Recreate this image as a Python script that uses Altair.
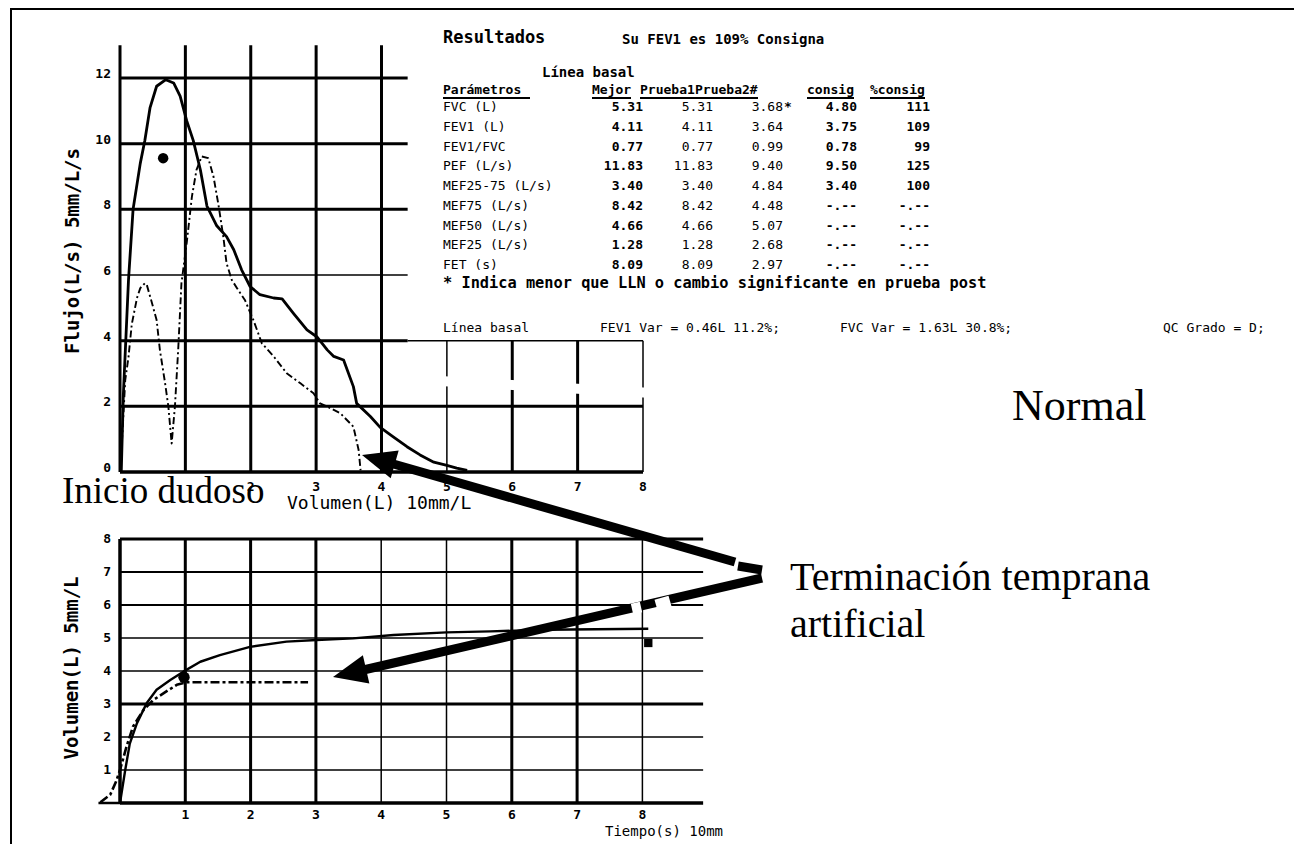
import math
import altair as alt
import pandas as pd

# ---------------- data ----------------
# Flow-volume (top): best test (solid) and trial 2 (dash-dot)
fv_best_volume = [0.0, 0.02, 0.05, 0.13, 0.20, 0.31, 0.38, 0.46, 0.56, 0.70, 0.82, 0.92, 1.02, 1.12,
                  1.23, 1.33, 1.48, 1.63, 1.74, 1.86, 1.99, 2.14, 2.35, 2.48, 2.65, 2.86, 3.01, 3.17,
                  3.27, 3.42, 3.57, 3.62, 3.83, 3.98, 4.18, 4.39, 4.59, 4.80, 5.00, 5.15, 5.31]
fv_best_flow = [0.0, 0.05, 2.3, 5.85, 8.0, 9.4, 10.1, 11.1, 11.75, 11.95, 11.85, 11.45, 10.7, 10.1,
                9.2, 8.1, 7.5, 7.17, 6.77, 6.16, 5.65, 5.4, 5.3, 5.27, 4.84, 4.33, 4.12, 3.72,
                3.52, 3.41, 2.6, 2.09, 1.69, 1.36, 1.07, 0.77, 0.52, 0.30, 0.20, 0.12, 0.05]
fv_trial2_volume = [0.0, 0.04, 0.08, 0.13, 0.18, 0.26, 0.31, 0.38, 0.41, 0.49, 0.56, 0.61, 0.69, 0.74,
                    0.79, 0.84, 0.89, 0.94, 1.02, 1.10, 1.17, 1.25, 1.35, 1.43, 1.51, 1.58, 1.63, 1.71,
                    1.79, 1.91, 2.04, 2.17, 2.35, 2.55, 2.76, 2.96, 3.06, 3.17, 3.37, 3.57, 3.65, 3.68]
fv_trial2_flow = [0.0, 1.28, 2.8, 3.5, 4.5, 5.3, 5.6, 5.75, 5.7, 5.14, 4.63, 3.72, 2.7, 1.99,
                  0.87, 1.99, 3.72, 5.75, 6.97, 8.39, 9.2, 9.61, 9.56, 9.0, 8.09, 7.17, 6.36, 5.85,
                  5.6, 5.24, 4.63, 3.92, 3.52, 3.01, 2.7, 2.4, 2.09, 1.99, 1.79, 1.38, 0.67, 0.05]
fv_marker_volume = [0.66]
fv_marker_flow = [9.56]

# Volume-time (bottom)
vt_best_time = [-0.33, 0.0, 0.08, 0.15, 0.26, 0.41, 0.56, 0.77, 0.97, 1.23, 1.53, 1.99, 2.55, 3.01,
                3.57, 4.19, 5.0, 5.67, 6.5, 8.09]
vt_best_volume = [0.0, 0.0, 1.0, 1.8, 2.42, 3.03, 3.43, 3.73, 3.98, 4.28, 4.48, 4.73, 4.89, 4.94,
                  4.99, 5.09, 5.17, 5.2, 5.25, 5.28]
vt_trial2_time = [-0.3, -0.15, -0.06, 0.0, 0.10, 0.20, 0.36, 0.51, 0.71, 0.87, 1.02, 2.88]
vt_trial2_volume = [0.02, 0.25, 0.65, 1.0, 1.71, 2.32, 2.82, 3.12, 3.38, 3.58, 3.66, 3.66]
vt_marker_time = [0.98]
vt_marker_volume = [3.81]
vt_end_time = [8.09]
vt_end_volume = [4.85]

# axis ticks
fv_x_ticks = [2, 3, 4, 5, 6, 7, 8]
fv_y_ticks = [0, 2, 4, 6, 8, 10, 12]
vt_x_ticks = [1, 2, 3, 4, 5, 6, 7, 8]
vt_y_ticks = [1, 2, 3, 4, 5, 6, 7, 8]

# grid lines
fv_v_full = [0, 1, 2, 3, 4]
fv_v_low_thick = [6, 7]
fv_v_low_thin = [5, 8]
fv_h_upper_thick = [4, 8, 10, 12]
fv_h_upper_thin = [6]
fv_h_full_thick = [2]
vt_v_thick = [1, 2, 3, 6, 7]
vt_v_thin = [4, 5, 8]
vt_h_thick = [3, 8]
vt_h_mid = [6, 7]
vt_h_thin = [1, 2, 4, 5]

# results table
params = ["FVC (L)", "FEV1 (L)", "FEV1/FVC", "PEF (L/s)", "MEF25-75 (L/s)",
          "MEF75 (L/s)", "MEF50 (L/s)", "MEF25 (L/s)", "FET (s)"]
col_mejor = ["5.31", "4.11", "0.77", "11.83", "3.40", "8.42", "4.66", "1.28", "8.09"]
col_prueba1 = ["5.31", "4.11", "0.77", "11.83", "3.40", "8.42", "4.66", "1.28", "8.09"]
col_prueba2 = ["3.68*", "3.64", "0.99", "9.40", "4.84", "4.48", "5.07", "2.68", "2.97"]
col_consig = ["4.80", "3.75", "0.78", "9.50", "3.40", "-.--", "-.--", "-.--", "-.--"]
col_pct = ["111", "109", "99", "125", "100", "-.--", "-.--", "-.--", "-.--"]
headers = ["Parámetros", "Mejor", "Prueba1", "Prueba2#", "consig", "%consig"]

txt_results = "Resultados"
txt_summary = "Su FEV1 es 109% Consigna"
txt_baseline_hdr = "Línea basal"
txt_footnote = "* Indica menor que LLN o cambio significante en prueba post"
txt_var_row = ["Línea basal", "FEV1 Var = 0.46L 11.2%;", "FVC Var = 1.63L 30.8%;", "QC Grado = D;"]
txt_fv_xtitle = "Volumen(L) 10mm/L"
txt_fv_ytitle = "Flujo(L/s) 5mm/L/s"
txt_vt_xtitle = "Tiempo(s) 10mm"
txt_vt_ytitle = "Volumen(L) 5mm/L"
txt_notes = ["Inicio dudoso", "Normal", "Terminación temprana", "artificial"]

# ---------------- layout (page pixels) ----------------
M = 8
W, H = 1286, 836


def P(v):
    return v - M


MONO = "DejaVu Sans Mono"
SERIF = "Liberation Serif"

TOPX = alt.Scale(domain=[0, 8], range=[P(120), P(643)], nice=False, zero=False)
TOPY = alt.Scale(domain=[0, 13], range=[P(472), P(45.2)], nice=False, zero=False)
BOTX = alt.Scale(domain=[0, 9], range=[P(120), P(707.7)], nice=False, zero=False)
BOTY = alt.Scale(domain=[0, 8], range=[P(803), P(539)], nice=False, zero=False)
ROWY = alt.Scale(domain=[0, 8], range=[P(107), P(265)], nice=False, zero=False)

layers = []


def vlines(xs, lo, hi, sx, sy, w):
    df = pd.DataFrame({"x": xs, "lo": [lo] * len(xs), "hi": [hi] * len(xs)})
    return alt.Chart(df).mark_rule(color="black", strokeWidth=w).encode(
        x=alt.X("x:Q", scale=sx, axis=None),
        y=alt.Y("lo:Q", scale=sy, axis=None), y2="hi:Q")


def hlines(ys, lo, hi, sx, sy, w):
    df = pd.DataFrame({"y": ys, "lo": [lo] * len(ys), "hi": [hi] * len(ys)})
    return alt.Chart(df).mark_rule(color="black", strokeWidth=w).encode(
        y=alt.Y("y:Q", scale=sy, axis=None),
        x=alt.X("lo:Q", scale=sx, axis=None), x2="hi:Q")


def curve(xs, ys, sx, sy, w, dash=None):
    df = pd.DataFrame({"x": xs, "y": ys, "i": list(range(len(xs)))})
    kw = dict(color="black", strokeWidth=w, strokeJoin="round", strokeCap="butt")
    if dash:
        kw["strokeDash"] = dash
    return alt.Chart(df).mark_line(**kw).encode(
        x=alt.X("x:Q", scale=sx, axis=None),
        y=alt.Y("y:Q", scale=sy, axis=None),
        order="i:Q")


def dots(xs, ys, sx, sy, size, shape="circle"):
    df = pd.DataFrame({"x": xs, "y": ys})
    return alt.Chart(df).mark_point(filled=True, color="black", size=size, shape=shape, opacity=1).encode(
        x=alt.X("x:Q", scale=sx, axis=None), y=alt.Y("y:Q", scale=sy, axis=None))


def labels(items, font, size, weight="normal", align="left", angle=0, baseline="middle"):
    df = pd.DataFrame({"label": [t for t, _, _ in items],
                       "px": [P(x) for _, x, _ in items],
                       "py": [P(y) for _, _, y in items]})
    return alt.Chart(df).mark_text(font=font, fontSize=size, fontWeight=weight, align=align,
                                   baseline=baseline, angle=angle, color="black").encode(
        x=alt.X("px:Q", scale=None), y=alt.Y("py:Q", scale=None), text="label:N")


def tick_text(vals, sx, sy, fixed, axis_is_x, size=13, align="center", dy=0):
    df = pd.DataFrame({"v": vals, "lab": [str(v) for v in vals]})
    mk = alt.Chart(df).mark_text(font=MONO, fontSize=size, fontWeight="bold", align=align,
                                 baseline="middle", color="black", dy=dy)
    if axis_is_x:
        return mk.encode(x=alt.X("v:Q", scale=sx, axis=None), y=alt.value(P(fixed)), text="lab:N")
    return mk.encode(y=alt.Y("v:Q", scale=sy, axis=None), x=alt.value(P(fixed)), text="lab:N")


def seg_layer(segs, w, color="black"):
    df = pd.DataFrame({"x1": [P(a[0]) for a, b in segs], "y1": [P(a[1]) for a, b in segs],
                       "x2": [P(b[0]) for a, b in segs], "y2": [P(b[1]) for a, b in segs]})
    return alt.Chart(df).mark_rule(color=color, strokeWidth=w, strokeCap="butt").encode(
        x=alt.X("x1:Q", scale=None), y=alt.Y("y1:Q", scale=None), x2="x2:Q", y2="y2:Q")


# ---- page frame (left and top) ----
layers.append(seg_layer([((11, 8), (11, 856)), ((11, 9), (1302, 9))], 2))

# ---- flow-volume grid ----
layers.append(vlines(fv_v_full, 0, 13, TOPX, TOPY, 3))
layers.append(vlines(fv_v_low_thick, 0, 4, TOPX, TOPY, 3))
layers.append(vlines(fv_v_low_thin, 0, 4, TOPX, TOPY, 1.5))
layers.append(hlines(fv_h_upper_thick, 0, 4.4, TOPX, TOPY, 3))
layers.append(hlines(fv_h_upper_thin, 0, 4.4, TOPX, TOPY, 1.5))
layers.append(hlines([4], 4.4, 8, TOPX, TOPY, 1.5))
layers.append(hlines(fv_h_full_thick, 0, 8, TOPX, TOPY, 3))
layers.append(hlines([0], 0, 8, TOPX, TOPY, 3.5))
# erased band across the right-hand verticals
layers.append(seg_layer([((440, 381), (652, 393))], 10, color="white"))

# ---- flow-volume curves ----
layers.append(curve(fv_best_volume, fv_best_flow, TOPX, TOPY, 2.8))
layers.append(curve(fv_trial2_volume, fv_trial2_flow, TOPX, TOPY, 1.9, dash=[7, 3, 2, 3]))
layers.append(dots(fv_marker_volume, fv_marker_flow, TOPX, TOPY, 110))

# ---- volume-time grid ----
layers.append(vlines([0], 0, 8, BOTX, BOTY, 3.5))
layers.append(vlines(vt_v_thick, 0, 8, BOTX, BOTY, 3))
layers.append(vlines(vt_v_thin, 0, 8, BOTX, BOTY, 1.5))
layers.append(hlines(vt_h_thick, 0, 8.93, BOTX, BOTY, 3))
layers.append(hlines(vt_h_mid, 0, 8.93, BOTX, BOTY, 2.2))
layers.append(hlines(vt_h_thin, 0, 8.93, BOTX, BOTY, 1.5))
layers.append(hlines([0], 0, 8.93, BOTX, BOTY, 3.5))

# ---- volume-time curves ----
layers.append(curve(vt_best_time, vt_best_volume, BOTX, BOTY, 2.4))
layers.append(curve(vt_trial2_time, vt_trial2_volume, BOTX, BOTY, 2.6, dash=[9, 3, 3, 3]))
layers.append(dots(vt_marker_time, vt_marker_volume, BOTX, BOTY, 130))
layers.append(dots(vt_end_time, vt_end_volume, BOTX, BOTY, 70, shape="square"))

# ---- tick labels and axis titles ----
layers.append(tick_text(fv_x_ticks, TOPX, TOPY, 487, True))
layers.append(tick_text(fv_y_ticks, TOPX, TOPY, 111, False, align="right", dy=-4))
layers.append(tick_text(vt_x_ticks, BOTX, BOTY, 815, True))
layers.append(tick_text(vt_y_ticks, BOTX, BOTY, 111, False, align="right"))
layers.append(labels([(txt_fv_xtitle, 287, 504)], MONO, 18))
layers.append(labels([(txt_vt_xtitle, 605, 832)], MONO, 14))
layers.append(labels([(txt_fv_ytitle, 73, 251), (txt_vt_ytitle, 72, 668)], MONO, 19,
                     weight="bold", align="center", angle=270))

# ---- results table ----
layers.append(labels([(txt_results, 443, 38)], MONO, 17, weight="bold"))
layers.append(labels([(txt_summary, 622, 40), (txt_baseline_hdr, 542, 73)], MONO, 14, weight="bold"))
hdr_x = [443, 592, 640, 695, 807, 870]
hdr_w = [87, 39, 55, 63, 47, 55]
layers.append(labels([(headers[i], hdr_x[i], 90) for i in range(len(headers))], MONO, 13, weight="bold"))
layers.append(seg_layer([((hdr_x[i], 98), (hdr_x[i] + hdr_w[i], 98)) for i in range(len(headers))], 2))


def table_col(values, xpos, align, weight):
    df = pd.DataFrame({"row": list(range(len(values))), "val": values})
    return alt.Chart(df).mark_text(font=MONO, fontSize=13, fontWeight=weight, align=align,
                                   baseline="middle", color="black").encode(
        y=alt.Y("row:Q", scale=ROWY, axis=None), x=alt.value(P(xpos)), text="val:N")


prueba2_clean = [v.rstrip("*") for v in col_prueba2]
prueba2_flag = ["*" if v.endswith("*") else "" for v in col_prueba2]
layers.append(table_col(params, 443, "left", "normal"))
layers.append(table_col(col_mejor, 643, "right", "bold"))
layers.append(table_col(col_prueba1, 713, "right", "normal"))
layers.append(table_col(prueba2_clean, 783, "right", "normal"))
layers.append(table_col(prueba2_flag, 784, "left", "bold"))
layers.append(table_col(col_consig, 857, "right", "bold"))
layers.append(table_col(col_pct, 930, "right", "bold"))
layers.append(labels([(txt_footnote, 443, 283)], MONO, 15.3, weight="bold"))
var_x = [443, 600, 840, 1163]
layers.append(labels([(txt_var_row[i], var_x[i], 328) for i in range(4)], MONO, 13))

# ---- arrows ----
arrow_defs = [((362, 455), (735, 562)), ((333, 677), (762, 578))]
HEAD = 34
shafts = []
heads = []
for tip, tail in arrow_defs:
    dx, dy = tail[0] - tip[0], tail[1] - tip[1]
    L = math.hypot(dx, dy)
    ux, uy = dx / L, dy / L
    base = (tip[0] + ux * (HEAD - 4), tip[1] + uy * (HEAD - 4))
    shafts.append((base, tail))
    ang = math.degrees(math.atan2(-uy, -ux)) - 180
    heads.append((P(tip[0] + ux * HEAD / 2), P(tip[1] + uy * HEAD / 2), ang % 360))
layers.append(seg_layer(shafts, 9))
layers.append(seg_layer([((738, 566), (762, 570))], 9))
layers.append(seg_layer([((670, 601), (656, 605)), ((641, 607), (632, 609))], 11, color="white"))
head_df = pd.DataFrame({"hx": [h[0] for h in heads], "hy": [h[1] for h in heads], "ang": [h[2] for h in heads]})
layers.append(alt.Chart(head_df).mark_point(filled=True, color="black", opacity=1, size=HEAD * HEAD,
                                            shape="M -1 0 L 1 -0.85 L 1 0.85 Z").encode(
    x=alt.X("hx:Q", scale=None), y=alt.Y("hy:Q", scale=None), angle=alt.Angle("ang:Q", scale=None)))

# ---- big annotations ----
layers.append(labels([(txt_notes[0], 62, 503)], SERIF, 37, baseline="alphabetic"))
layers.append(labels([(txt_notes[1], 1012, 420)], SERIF, 44, baseline="alphabetic"))
layers.append(labels([(txt_notes[2], 790, 590), (txt_notes[3], 790, 637)],
                     SERIF, 40, baseline="alphabetic"))

chart = alt.layer(*layers).resolve_scale(x="independent", y="independent").properties(
    width=W, height=H, padding=0, autosize=alt.AutoSizeParams(type="none"),
    background="white").configure_view(stroke=None)

chart.save("out.html", embed_options={"renderer": "svg", "actions": False})
